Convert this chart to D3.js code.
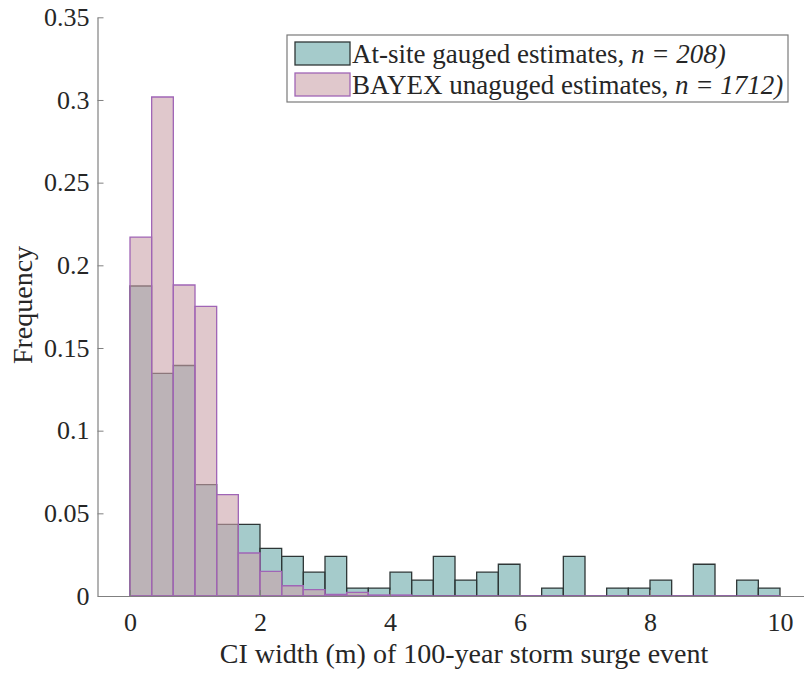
<!DOCTYPE html>
<html>
<head>
<meta charset="utf-8">
<script src="https://cdn.jsdelivr.net/npm/d3@7"></script>
<style>
  body { margin: 0; background: #fff; }
  text { font-family: "Liberation Serif", "Times New Roman", serif; fill: #262626; }
</style>
</head>
<body>
<div id="chart"></div>
<script>
// bin edges: 30 bins of width 1/3 from 0 to 10
const binCount = 30;
const binWidth = 1 / 3;

// At-site gauged estimates (n = 208), frequency per bin
const gaugedFreq = [
    0.1875, 0.1346, 0.1394, 0.0673, 0.0433, 0.0433, 0.0288, 0.0240, 0.0144, 0.0240,
    0.0048, 0.0048, 0.0144, 0.0096, 0.0240, 0.0096, 0.0144, 0.0192, 0, 0.0048,
    0.0240, 0, 0.0048, 0.0048, 0.0096, 0, 0.0192, 0, 0.0096, 0.0048
];

// BAYEX unaguged estimates (n = 1712), frequency per bin
const bayexFreq = [
    0.2171, 0.3018, 0.1881, 0.1752, 0.0613, 0.0260, 0.0149, 0.0062, 0.0038, 0.0010,
    0.0022, 0.0006, 0.0006, 0, 0, 0, 0, 0, 0, 0,
    0, 0, 0, 0, 0, 0, 0, 0, 0, 0
];

const xTicks = [0, 2, 4, 6, 8, 10];
const yTicks = [0, 0.05, 0.1, 0.15, 0.2, 0.25, 0.3, 0.35];

const width = 804;
const height = 673;

const x = d3.scaleLinear().domain([-0.5, 10.5]).range([97.5, 812.5]);
const y = d3.scaleLinear().domain([0, 0.35]).range([596, 17.3]);

const svg = d3.create("svg")
    .attr("width", width)
    .attr("height", height)
    .attr("viewBox", [0, 0, width, height]);

// turn a list of frequencies into bar objects
function toBins(values) {
    return values.map((v, i) => ({ x0: i * binWidth, x1: (i + 1) * binWidth, value: v }));
}

// bars as paths so zero-height bins still show their edge
function barPath(d) {
    return `M${x(d.x0)},${y(0)}V${y(d.value)}H${x(d.x1)}V${y(0)}Z`;
}

// Teal series first, pink on top (both semi transparent)
svg.append("g")
    .selectAll("path")
    .data(toBins(gaugedFreq))
    .join("path")
        .attr("d", barPath)
        .attr("fill", "#69a8a8")
        .attr("fill-opacity", 0.6)
        .attr("stroke", "#2e3636")
        .attr("stroke-width", 1.3);

svg.append("g")
    .selectAll("path")
    .data(toBins(bayexFreq))
    .join("path")
        .attr("d", barPath)
        .attr("fill", "#cba3aa")
        .attr("fill-opacity", 0.6)
        .attr("stroke", "#a065b6")
        .attr("stroke-width", 1.3);

// Axes (MATLAB-like: ticks inside, no box)
const axisColor = "#808080";

const yAxis = svg.append("g")
    .attr("transform", `translate(${x(-0.5)},0)`)
    .call(d3.axisRight(y).tickValues(yTicks).tickSize(6).tickFormat(d3.format("")).tickSizeOuter(0));
yAxis.select(".domain").attr("stroke", axisColor).attr("stroke-width", 1.2);
yAxis.selectAll(".tick line").attr("stroke", axisColor);
yAxis.selectAll(".tick text")
    .attr("x", -8)
    .attr("text-anchor", "end")
    .style("font-size", "26px");

const xAxis = svg.append("g")
    .attr("transform", `translate(0,${y(0)})`)
    .call(d3.axisTop(x).tickValues(xTicks).tickSize(6).tickSizeOuter(0));
xAxis.select(".domain").attr("stroke", axisColor).attr("stroke-width", 1.2);
xAxis.selectAll(".tick line").attr("stroke", axisColor);
xAxis.selectAll(".tick text")
    .attr("y", 35)
    .attr("dy", 0)
    .style("font-size", "26px");
svg.selectAll(".tick text").attr("fill", "#262626");
svg.selectAll("g").attr("font-family", null);

// Axis labels
svg.append("text")
    .attr("x", 464)
    .attr("y", 663)
    .attr("text-anchor", "middle")
    .style("font-size", "28px")
    .text("CI width (m) of 100-year storm surge event");

svg.append("text")
    .attr("transform", "translate(32,305) rotate(-90)")
    .attr("text-anchor", "middle")
    .style("font-size", "28px")
    .text("Frequency");

// Legend
const legend = svg.append("g");
legend.append("rect")
    .attr("x", 287).attr("y", 35)
    .attr("width", 501).attr("height", 67)
    .attr("fill", "#fff")
    .attr("stroke", "#7a7a7a")
    .attr("stroke-width", 1.2);

const legendItems = [
    { label: "At-site gauged estimates, ", n: "208)", fill: "#69a8a8", stroke: "#2e3636" },
    { label: "BAYEX unaguged estimates, ", n: "1712)", fill: "#cba3aa", stroke: "#a065b6" }
];

legendItems.forEach((item, i) => {
    const cy = 53.5 + i * 31;
    legend.append("rect")
        .attr("x", 295).attr("y", cy - 11.5)
        .attr("width", 55).attr("height", 23)
        .attr("fill", item.fill)
        .attr("fill-opacity", 0.6)
        .attr("stroke", item.stroke)
        .attr("stroke-width", 1.3);
    const t = legend.append("text")
        .attr("x", 352)
        .attr("y", cy + 9)
        .style("font-size", "27px");
    t.append("tspan").text(item.label);
    t.append("tspan").style("font-style", "italic").text("n = " + item.n);
});

document.getElementById("chart").appendChild(svg.node());
</script>
</body>
</html>
